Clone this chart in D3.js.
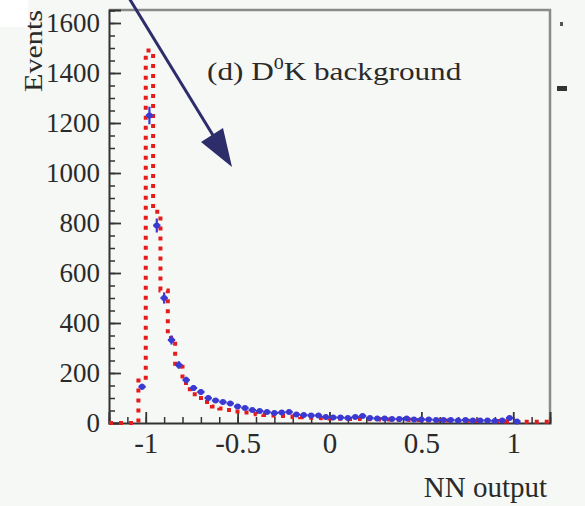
<!DOCTYPE html>
<html>
<head>
<meta charset="utf-8">
<script src="https://cdn.jsdelivr.net/npm/d3@7"></script>
<style>
  body { margin: 0; background: #f6f8f5; }
  svg { display: block; }
  text { font-family: "Liberation Serif", "DejaVu Serif", serif; fill: #2a2a2a; }
</style>
</head>
<body>
<svg id="chart" width="585" height="506"></svg>
<script>
// bin centres (width 0.04) and contents
const binWidth = 0.04;
const binCenters = d3.range(60).map(i => +(-1.18 + i * binWidth).toFixed(2));

// MC expectation (red dotted histogram), one value per bin
const mcCounts = [
  0, 0, 0, 0,
  170, 1490, 845, 530, 340, 225, 160, 115, 100, 84,
  66, 58, 52, 46, 42, 38, 35, 32, 30, 28,
  26, 24, 23, 21, 20, 19, 18, 17, 16, 16,
  17, 15, 15, 14, 14, 13, 13, 12, 12, 11,
  11, 10, 10, 9, 9, 9, 8, 8, 8, 7,
  6, 5, 5, 5, 5, 5
];

// data points (blue), null where there is no entry
const dataCounts = [
  null, null, null, null,
  145, 1230, 790, 500, 332, 232, 172, 140, 124, 100,
  90, 84, 78, 66, 60, 52, 48, 44, 40, 42,
  44, 34, 32, 30, 30, 24, 22, 22, 20, 24,
  28, 20, 18, 18, 16, 16, 18, 14, 14, 14,
  12, 12, 12, 10, 12, 10, 10, 10, 8, 10,
  20, 6, null, null, null, null
];

const xTickValues = [-1, -0.5, 0, 0.5, 1];
const xMinorValues = d3.range(-12, 13).map(i => +(i / 10).toFixed(1));
const yTickValues = [0, 200, 400, 600, 800, 1000, 1200, 1400, 1600];
const yMinorValues = d3.range(0, 1651, 50);

const W = 585, H = 506;
const svg = d3.select('#chart');

svg.append('rect').attr('width', W).attr('height', H).attr('fill', '#f6f8f5');
svg.append('rect').attr('width', 28).attr('height', 27).attr('fill', '#ffffff');

const x = d3.scaleLinear().domain([-1.2, 1.2]).range([109, 550]);
const y = d3.scaleLinear().domain([0, 1652]).range([423, 10]);

// frame (top and right are lighter, as in the original)
svg.append('path')
  .attr('d', `M${x(-1.2)},${y(1652)}H${x(1.2)}V${y(0)}`)
  .attr('fill', 'none')
  .attr('stroke', '#8a8a8a')
  .attr('stroke-width', 2.5);

// minor ticks
svg.append('g')
  .attr('transform', `translate(0,${y(0)})`)
  .call(d3.axisBottom(x).tickValues(xMinorValues).tickSize(-6).tickFormat(''))
  .call(g => g.select('.domain').remove())
  .selectAll('line').attr('stroke', '#333').attr('stroke-width', 1.5);

svg.append('g')
  .attr('transform', `translate(${x(-1.2)},0)`)
  .call(d3.axisLeft(y).tickValues(yMinorValues).tickSize(-6).tickFormat(''))
  .call(g => g.select('.domain').remove())
  .selectAll('line').attr('stroke', '#333').attr('stroke-width', 1.5);

// major ticks + labels
const xAxis = svg.append('g')
  .attr('transform', `translate(0,${y(0)})`)
  .call(d3.axisBottom(x).tickValues(xTickValues).tickSize(-11).tickPadding(9)
    .tickFormat(d => String(d)));
xAxis.select('.domain').attr('stroke', '#333').attr('stroke-width', 2);
xAxis.selectAll('line').attr('stroke', '#333').attr('stroke-width', 1.8);
xAxis.selectAll('text')
  .style('font-size', '29px')
  .attr('fill', '#2a2a2a')
  .style('font-family', '"Liberation Serif", serif');

const yAxis = svg.append('g')
  .attr('transform', `translate(${x(-1.2)},0)`)
  .call(d3.axisLeft(y).tickValues(yTickValues).tickSize(-12).tickPadding(9)
    .tickFormat(d3.format('d')));
yAxis.select('.domain').attr('stroke', '#333').attr('stroke-width', 2);
yAxis.selectAll('line').attr('stroke', '#333').attr('stroke-width', 1.8);
yAxis.selectAll('text')
  .style('font-size', '27px')
  .attr('fill', '#2a2a2a')
  .style('font-family', '"Liberation Serif", serif');

// red dotted MC histogram
const stepPts = binCenters.map((c, i) => [c - binWidth / 2, mcCounts[i]]);
stepPts.push([1.2, mcCounts[mcCounts.length - 1]]);

const stepLine = d3.line()
  .x(d => x(d[0]))
  .y(d => y(d[1]))
  .curve(d3.curveStepAfter);

svg.append('path')
  .datum(stepPts)
  .attr('d', stepLine)
  .attr('fill', 'none')
  .attr('stroke', '#e41c1c')
  .attr('stroke-width', 4)
  .attr('stroke-dasharray', '4,6');

// blue data points with errors
const pts = binCenters
  .map((c, i) => ({ c, v: dataCounts[i] }))
  .filter(d => d.v !== null);

const pg = svg.append('g').attr('class', 'points');
const pt = pg.selectAll('g').data(pts).enter().append('g');

pt.append('line')
  .attr('x1', d => x(d.c)).attr('x2', d => x(d.c))
  .attr('y1', d => y(d.v + Math.sqrt(d.v)))
  .attr('y2', d => y(Math.max(0, d.v - Math.sqrt(d.v))))
  .attr('stroke', '#3a3ad2')
  .attr('stroke-width', 2.2);

pt.append('line')
  .attr('x1', d => x(d.c - binWidth / 2)).attr('x2', d => x(d.c + binWidth / 2))
  .attr('y1', d => y(d.v)).attr('y2', d => y(d.v))
  .attr('stroke', '#3a3ad2')
  .attr('stroke-width', 2.2);

pt.append('circle')
  .attr('cx', d => x(d.c))
  .attr('cy', d => y(d.v))
  .attr('r', 3)
  .attr('fill', '#3a3ad2');

// title inside the frame
const title = svg.append('text')
  .attr('x', 207)
  .attr('y', 80)
  .style('font-size', '25px');
title.append('tspan').text('(d) D');
title.append('tspan').attr('dy', -11).style('font-size', '16px').text('0');
title.append('tspan').attr('dy', 11).text('K background');
const tw = title.node().getBBox().width;
title.attr('transform', `translate(207,0) scale(${255 / tw},1) translate(-207,0)`);

// axis titles
svg.append('text')
  .attr('transform', 'translate(42,10) rotate(-90)')
  .attr('text-anchor', 'end')
  .style('font-size', '26px')
  .attr('textLength', 82)
  .attr('lengthAdjust', 'spacingAndGlyphs')
  .text('Events');

svg.append('text')
  .attr('x', 547)
  .attr('y', 497)
  .attr('text-anchor', 'end')
  .style('font-size', '29px')
  .text('NN output');

// annotation arrow drawn over the plot
const arrowColor = '#2d2d6c';
svg.append('line')
  .attr('x1', 129).attr('y1', -2)
  .attr('x2', 222).attr('y2', 150)
  .attr('stroke', arrowColor)
  .attr('stroke-width', 3);
svg.append('path')
  .attr('d', 'M232,167L201,142L223,128Z')
  .attr('fill', arrowColor);

// edge of the neighbouring panel
svg.append('rect').attr('x', 560).attr('y', 22).attr('width', 3).attr('height', 4).attr('fill', '#555');
svg.append('rect').attr('x', 557).attr('y', 86).attr('width', 10).attr('height', 5).attr('fill', '#333');
</script>
</body>
</html>
